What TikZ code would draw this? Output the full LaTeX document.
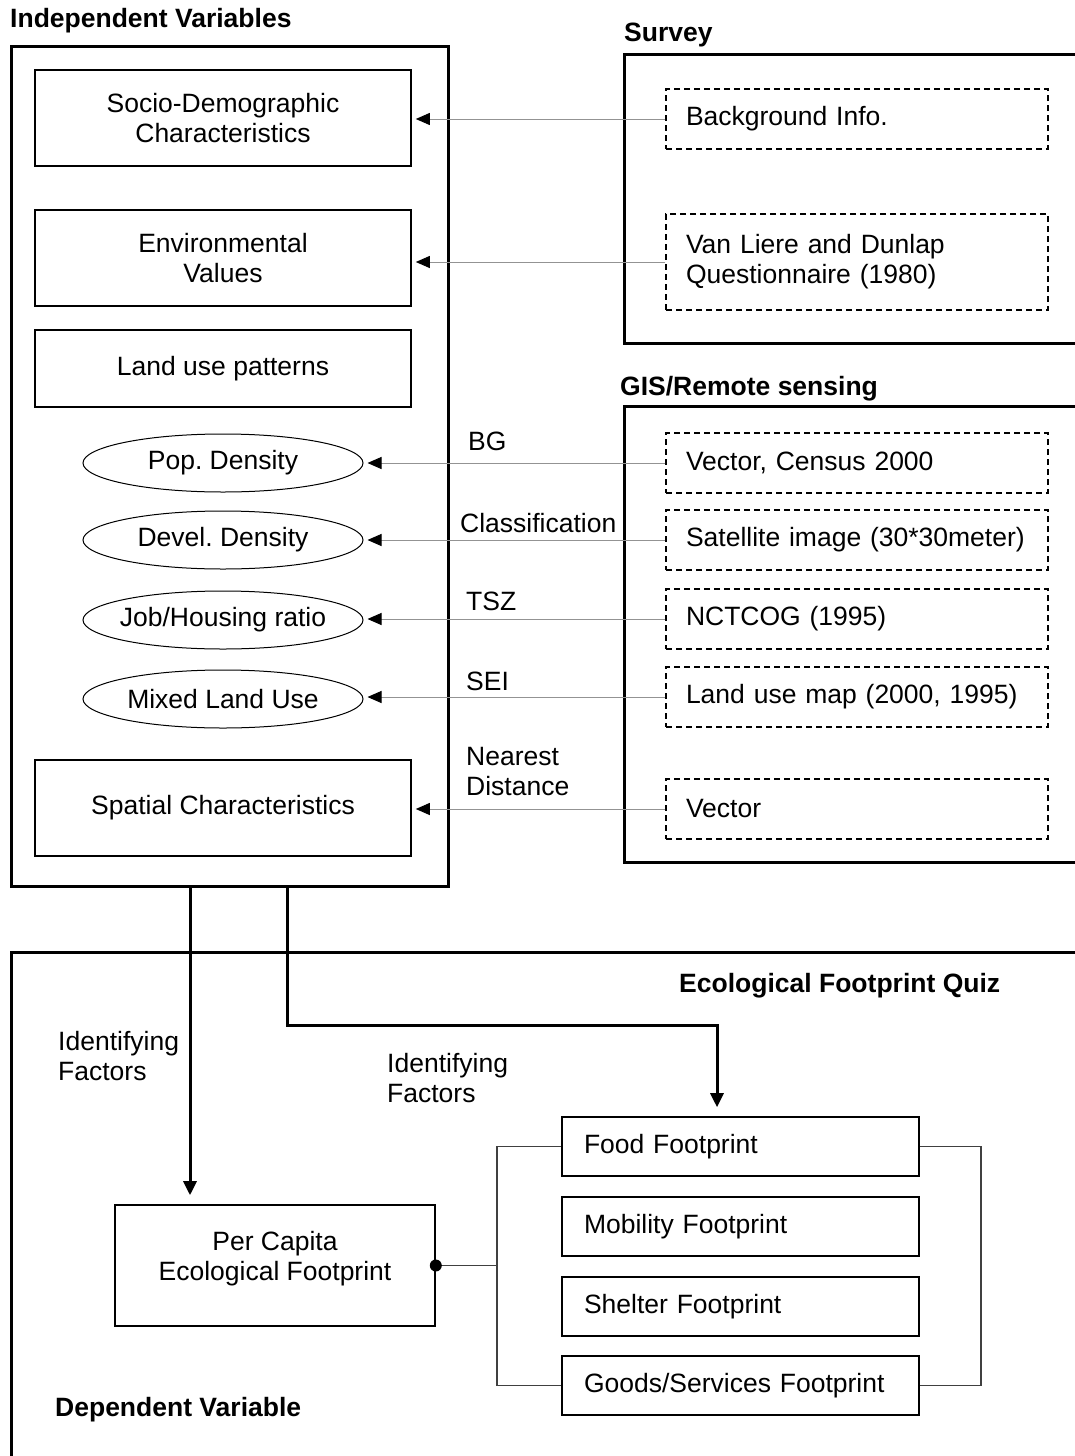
\documentclass[tikz,border=0pt]{standalone}
\usepackage{fontspec}
\setmainfont{Liberation Sans}
\usetikzlibrary{arrows.meta,shapes.geometric}
\frenchspacing
\begin{document}
\begin{tikzpicture}[x=1pt,y=-1pt,
  font=\fontsize{26.5}{30}\selectfont,
  box/.style={draw, line width=1.6pt, minimum width=376pt, align=center, inner sep=0pt},
  ell/.style={draw, ellipse, line width=1pt, minimum width=280pt, minimum height=58pt, inner xsep=-45pt, inner ysep=0pt},
  dbox/.style={draw, dashed, dash pattern=on 6pt off 4pt, line width=1.2pt, minimum width=382pt, text width=342pt, inner xsep=20pt, inner ysep=0pt, align=left},
  fbox/.style={draw, line width=1.6pt, minimum width=357pt, minimum height=59pt, text width=313pt, inner xsep=22pt, inner ysep=0pt, align=left},
  outer/.style={draw, line width=3pt},
  head/.style={font=\fontsize{26.5}{30}\selectfont\bfseries, inner sep=0pt, anchor=west},
  lbl/.style={inner sep=0pt, align=left, anchor=west},
  arr/.style={draw=gray!85, line width=1pt, -{Triangle[length=14pt,width=12pt,color=black]}, shorten >=4pt},
  tharr/.style={draw, line width=3pt, -{Triangle[length=14pt,width=13pt]}},
  conn/.style={draw=black!75, line width=1.6pt}
]
\useasboundingbox (0,0) rectangle (1074,1456);

% ---------- Independent variables ----------
\node[head] (ivh) at (10,21) {Independent Variables};
\node[outer, minimum width=437pt, minimum height=840pt, inner sep=0pt] (iv) at (229.5,466) {};
\node[box, minimum height=96pt] (sd) at (223,118) {Socio-Demographic\\Characteristics};
\node[box, minimum height=96pt] (ev) at (223,258) {Environmental\\Values};
\node[box, minimum height=77pt] (lu) at (223,368.5) {Land use patterns};
\node[ell] (pd) at (223,463) {Pop. Density};
\node[ell] (dd) at (223,540) {Devel. Density};
\node[ell] (jh) at (223,620) {Job/Housing ratio};
\node[ell] (ml) at (223,699) {Mixed Land Use};
\node[box, minimum height=96pt] (sc) at (223,808) {Spatial Characteristics};

% ---------- Survey ----------
\node[head] (svh) at (624,35) {Survey};
\draw[line width=3pt] (1077,54) -- (624,54) -- (624,343) -- (1077,343);
\node[dbox, minimum height=60pt] (bi) at (857,119) {Background Info.};
\node[dbox, minimum height=96pt] (vl) at (857,262) {Van Liere and Dunlap\\Questionnaire (1980)};

% ---------- GIS ----------
\node[head] (gish) at (620,389) {GIS/Remote sensing};
\draw[line width=3pt] (1077,406) -- (624,406) -- (624,862) -- (1077,862);
\node[dbox, minimum height=60pt] (vc) at (857,463) {Vector, Census 2000};
\node[dbox, minimum height=60pt] (si) at (857,540) {Satellite image (30*30meter)};
\node[dbox, minimum height=60pt] (nc) at (857,619) {NCTCOG (1995)};
\node[dbox, minimum height=60pt] (lm) at (857,697) {Land use map (2000, 1995)};
\node[dbox, minimum height=60pt] (vv) at (857,809) {Vector};

% ---------- thin arrows ----------
\draw[arr] (bi.west) -- (sd.east |- bi.west);
\draw[arr] (vl.west) -- (ev.east |- vl.west);
\draw[arr] (vc.west) -- (pd.east |- vc.west);
\draw[arr] (si.west) -- (dd.east |- si.west);
\draw[arr] (nc.west) -- (jh.east |- nc.west);
\draw[arr] (lm.west) -- (ml.east |- lm.west);
\draw[arr] (vv.west) -- (sc.east |- vv.west);

\node[lbl] (lbg) at (468,441) {BG};
\node[lbl] (lcl) at (460,523) {Classification};
\node[lbl] (lts) at (466,601) {TSZ};
\node[lbl] (lse) at (466,681) {SEI};
\node[lbl] (lnd) at (466,772) {Nearest\\Distance};

% ---------- Dependent variable ----------
\draw[line width=3pt] (1077,952) -- (11,952) -- (11,1460);
\node[head] (qh) at (679,986) {Ecological Footprint Quiz};
\node[head] (dvh) at (55,1410) {Dependent Variable};

\node[box, minimum width=320pt, minimum height=121pt] (pc) at (275,1265.5) {};
\node[align=center, inner sep=0pt] (pct) at (275,1259) {Per Capita\\Ecological Footprint};
\node[fbox] (ff) at (740.5,1146.5) {Food Footprint};
\node[fbox] (mf) at (740.5,1226.5) {Mobility Footprint};
\node[fbox] (sf) at (740.5,1306.5) {Shelter Footprint};
\node[fbox] (gf) at (740.5,1385.5) {Goods/Services Footprint};

\node[lbl] (if1) at (58,1056) {Identifying\\Factors};
\node[lbl] (if2) at (387,1078) {Identifying\\Factors};

\draw[tharr, shorten >=9pt] (190,0 |- iv.south) -- (190,0 |- pc.north);
\draw[tharr, shorten >=9pt] (287,0 |- iv.south) -- (287,1025) -- (717,1025) -- (717,0 |- ff.north);

\draw[conn] (ff.west) -- ++(-64,0) |- (gf.west);
\draw[conn] (pc.east) -- (498,0 |- pc.east);
\draw[conn] (ff.east) -- ++(61,0) |- (gf.east);
\fill (pc.east) circle (6pt);
\end{tikzpicture}
\end{document}
